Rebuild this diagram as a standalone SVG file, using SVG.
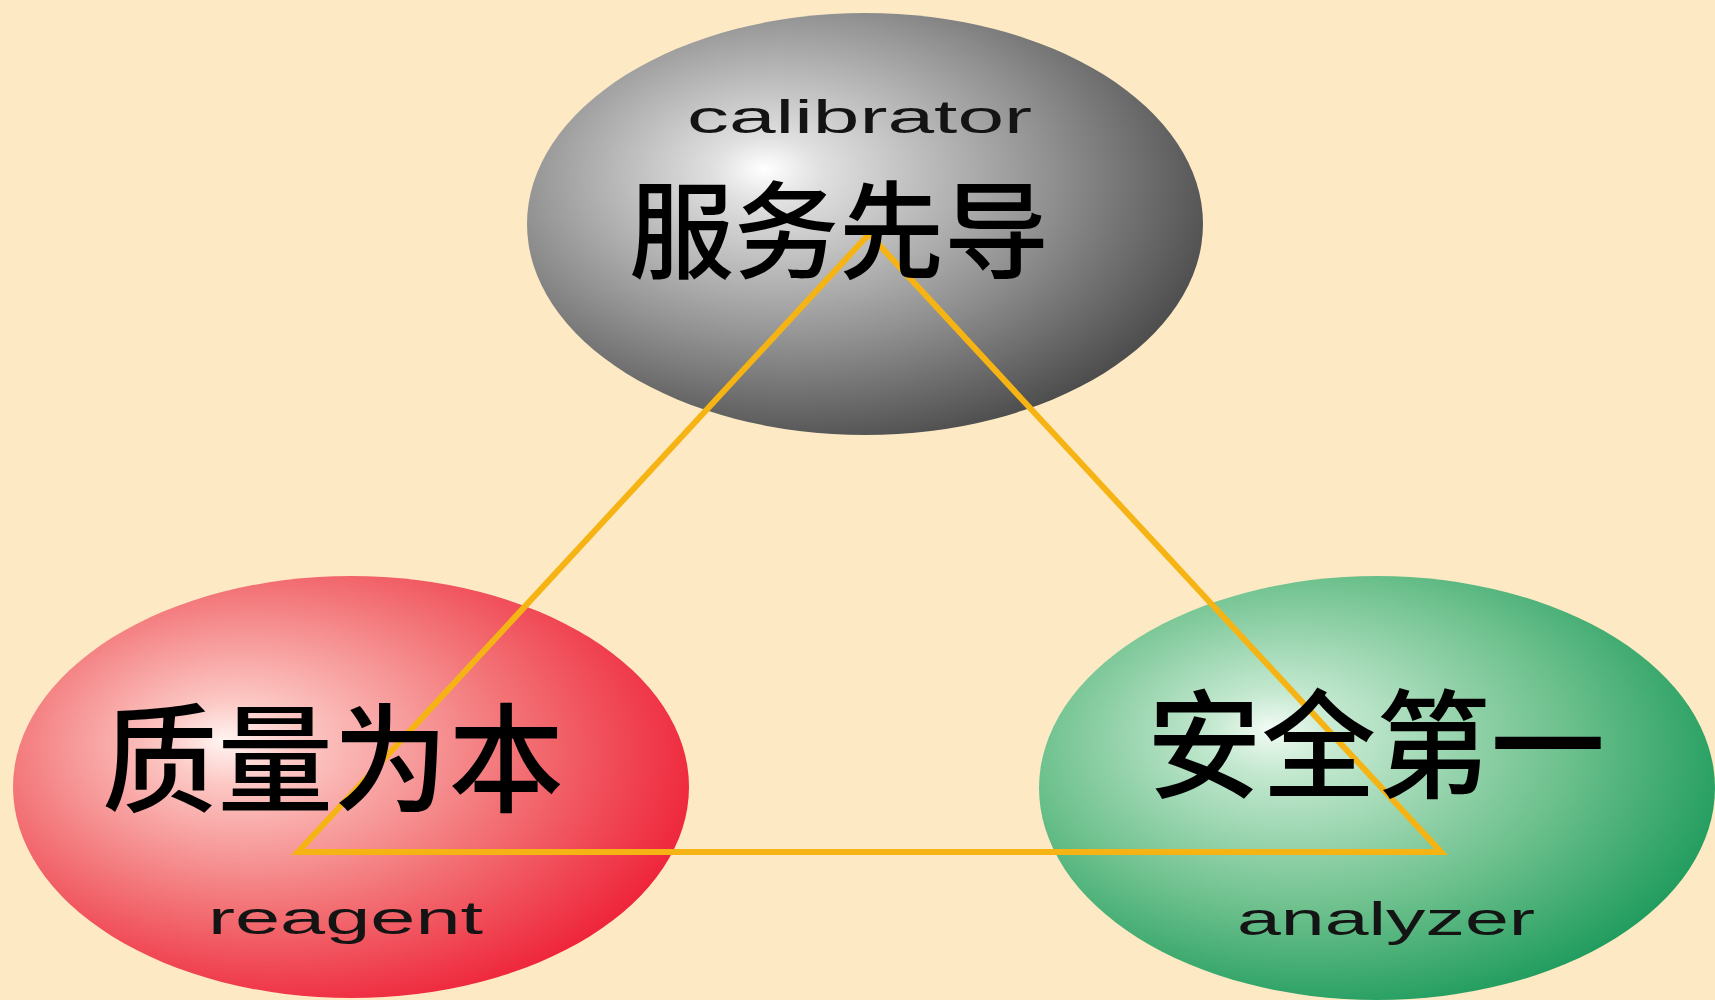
<svg xmlns="http://www.w3.org/2000/svg" width="1715" height="1000" viewBox="0 0 1715 1000">
<style>
.en{font-family:"Liberation Sans",Arial,sans-serif;fill:#141414}
.zh{font-family:"Noto Sans CJK SC",sans-serif;font-weight:500;fill:#000}
.tri{fill:none;stroke:#F6B414;stroke-width:6;stroke-linejoin:miter}
</style>
<defs>
<radialGradient id="gGrey" cx="0.4" cy="0.4" r="0.66" fx="0.35" fy="0.37">
<stop offset="0" stop-color="#ffffff"/>
<stop offset="0.12" stop-color="#e0e0e0"/>
<stop offset="0.6" stop-color="#909090"/>
<stop offset="1" stop-color="#484848"/>
</radialGradient>
<radialGradient id="gRed" cx="0.4" cy="0.42" r="0.66" fx="0.31" fy="0.39">
<stop offset="0" stop-color="#fff4f2"/>
<stop offset="0.15" stop-color="#fcc8c4"/>
<stop offset="0.6" stop-color="#f26e72"/>
<stop offset="1" stop-color="#ee1c34"/>
</radialGradient>
<radialGradient id="gGreen" cx="0.42" cy="0.42" r="0.66" fx="0.34" fy="0.36">
<stop offset="0" stop-color="#f2fbf4"/>
<stop offset="0.15" stop-color="#c3e8cf"/>
<stop offset="0.6" stop-color="#6cc08c"/>
<stop offset="1" stop-color="#149656"/>
</radialGradient>
</defs>
<rect width="1715" height="1000" fill="#FDEAC4"/>
<g id="node-calibrator">
<ellipse cx="865" cy="224" rx="338" ry="211" fill="url(#gGrey)"/>
</g>
<g id="node-reagent">
<ellipse cx="351" cy="787" rx="338" ry="211" fill="url(#gRed)"/>
</g>
<g id="node-analyzer">
<ellipse cx="1377" cy="788" rx="338" ry="212" fill="url(#gGreen)"/>
</g>
<g id="connectors">
<polygon class="tri" points="298,852 869,234 1441,852"/>
</g>
<g id="node-calibrator-labels">
<text class="en" x="687" y="133" font-size="46" textLength="345" lengthAdjust="spacingAndGlyphs">calibrator</text>
<text class="zh" x="629" y="270" font-size="106" textLength="420" lengthAdjust="spacingAndGlyphs">服务先导</text>
</g>
<g id="node-reagent-labels">
<text class="zh" x="102" y="803" font-size="118" textLength="462" lengthAdjust="spacingAndGlyphs">质量为本</text>
<text class="en" x="208" y="934" font-size="46" textLength="275" lengthAdjust="spacingAndGlyphs">reagent</text>
</g>
<g id="node-analyzer-labels">
<text class="zh" x="1147" y="789" font-size="118" textLength="458" lengthAdjust="spacingAndGlyphs">安全第一</text>
<text class="en" x="1237" y="935" font-size="46" textLength="298" lengthAdjust="spacingAndGlyphs">analyzer</text>
</g>
</svg>
